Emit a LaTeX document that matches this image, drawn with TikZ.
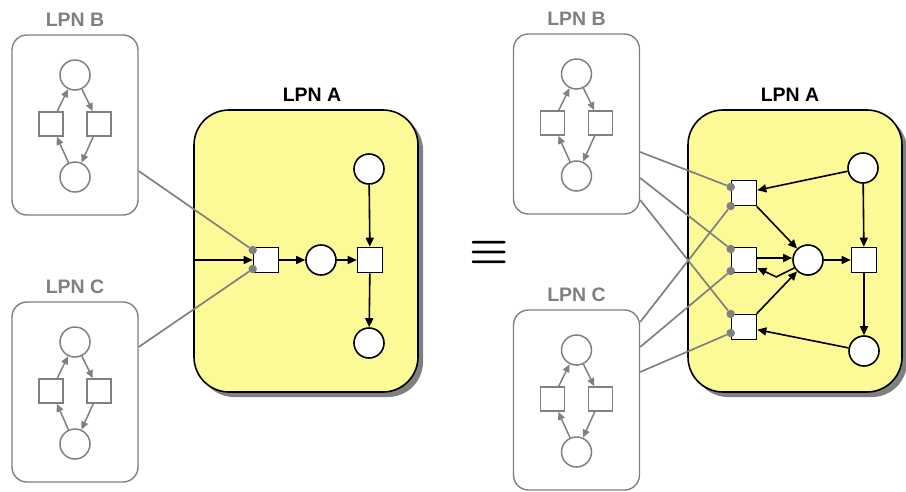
\documentclass[tikz,border=0pt]{standalone}
\usepackage{fontspec}
\setmainfont{Liberation Sans}
\usetikzlibrary{arrows.meta,calc,shadows}
\definecolor{lpnyellow}{RGB}{251,250,150}
\definecolor{lpngray}{RGB}{128,128,128}

% one small grey sub-net: box, label, two places, two transitions, a cycle of arcs
\newcommand\drawsubnet[4]{% #1 name prefix, #2 centre x, #3 top y, #4 label
  \node[subnet] (#1box) at (#2,#3+90) {};
  \node[glabel] (#1lab) at (#2,#3-15) {#4};
  \node[gplace] (#1p1) at (#2,#3+40) {};
  \node[gplace] (#1p2) at (#2,#3+142) {};
  \node[gtrans] (#1t1) at (#2-24,#3+89) {};
  \node[gtrans] (#1t2) at (#2+24,#3+89) {};
  \draw[garc] (#1p1) -- (#1t2);
  \draw[garc] (#1t2) -- (#1p2);
  \draw[garc] (#1p2) -- (#1t1);
  \draw[garc] (#1t1) -- (#1p1);
}

\begin{document}
\begin{tikzpicture}[x=1pt,y=-1pt,
  place/.style={circle,draw,fill=white,minimum size=30pt,inner sep=0pt,line width=1.6pt},
  trans/.style={rectangle,draw,fill=white,minimum size=25pt,inner sep=0pt,line width=1.6pt},
  gplace/.style={circle,draw=lpngray,minimum size=30pt,inner sep=0pt,line width=1.5pt},
  gtrans/.style={rectangle,draw=lpngray,minimum size=24pt,inner sep=0pt,line width=1.5pt},
  garc/.style={draw=lpngray,line width=1.5pt,-{Triangle[length=8pt,width=7pt]}},
  arc/.style={draw=black,line width=1.6pt,-{Triangle[length=9pt,width=8pt]}},
  link/.style={draw=lpngray,line width=1.7pt},
  port/.style={circle,fill=lpngray,minimum size=8.5pt,inner sep=0pt},
  subnet/.style={draw=lpngray,line width=1.4pt,rounded corners=15pt,
    minimum width=126pt,minimum height=180pt,inner sep=0pt},
  mainnet/.style={draw=black,fill=lpnyellow,line width=1.6pt,rounded corners=35pt,
    minimum height=282pt,inner sep=0pt,
    drop shadow={shadow xshift=5pt,shadow yshift=-5pt,fill=black!50,opacity=1}},
  glabel/.style={text=lpngray,font=\fontsize{19.5}{19.5}\selectfont\bfseries},
  blabel/.style={text=black,font=\fontsize{19.5}{19.5}\selectfont\bfseries},
  eqsign/.style={scale=4.4,inner sep=0pt,font=\boldmath},
]
\useasboundingbox (0,0) rectangle (906,491);

% ---------------- left: LPN A with its two environment nets ----------------
\drawsubnet{bl}{75}{35}{LPN B}
\drawsubnet{cl}{75}{302}{LPN C}

\node[mainnet,minimum width=224pt] (al) at (306,251) {};
\node[blabel] (allab) at (312,95) {LPN A};

\node[trans] (t1) at (266,260) {};
\node[place] (p1) at (321,260) {};
\node[trans] (t2) at (370,260) {};
\node[place] (p0) at (369,169) {};
\node[place] (p2) at (369,343) {};
\coordinate (in1) at (al.west |- t1);

\draw[arc] (in1) -- (t1);
\draw[arc] (t1) -- (p1);
\draw[arc] (p1) -- (t2);
\draw[arc] (p0) -- (t2);
\draw[arc] (t2) -- (p2);

\node[port] (d1) at ($(t1.west)+(0,-10)$) {};
\node[port] (d2) at ($(t1.west)+(0,9)$) {};
\draw[link] ($(blbox.east)+(0,46)$) -- (d1);
\draw[link] ($(clbox.east)+(0,-45)$) -- (d2);

% ---------------- equivalence sign ----------------
\node[eqsign] (equiv) at (489,252) {$\equiv$};

% ---------------- right: LPN A with the fused transitions ----------------
\drawsubnet{br}{576.5}{34}{LPN B}
\drawsubnet{cr}{576.5}{310}{LPN C}

\node[mainnet,minimum width=214pt] (ar) at (795,251) {};
\node[blabel] (arlab) at (790,95) {LPN A};

\node[trans] (ta) at (744,193) {};
\node[trans] (tb) at (744,260) {};
\node[trans] (tc) at (744,327) {};
\node[place] (pm) at (808,260) {};
\node[trans] (td) at (864,260) {};
\node[place] (pt) at (863,168) {};
\node[place] (pb) at (864,351) {};

\draw[arc] (pt) -- (ta);
\draw[arc] (ta) -- (pm);
\draw[arc] ($(tb.east)+(0,-2)$) -- ($(pm.west)+(0,-2)$);
\draw[arc] (pm.210) -- ++(-18,9) -- ($(tb.east)+(0,8)$);
\draw[arc] (tc) -- (pm);
\draw[arc] (pb) -- (tc);
\draw[arc] (pt) -- (td);
\draw[arc] (pm) -- (td);
\draw[arc] (td) -- (pb);

\node[port] (da1) at ($(ta.west)+(0,-6)$) {};
\node[port] (da2) at ($(ta.west)+(0,13)$) {};
\node[port] (db1) at ($(tb.west)+(0,-11)$) {};
\node[port] (db2) at ($(tb.west)+(0,11)$) {};
\node[port] (dc1) at ($(tc.west)+(0,-13)$) {};
\node[port] (dc2) at ($(tc.west)+(0,6)$) {};

\draw[link] ($(brbox.east)+(0,28)$) -- (da1);
\draw[link] ($(brbox.east)+(0,54)$) -- (db1);
\draw[link] ($(brbox.east)+(0,76)$) -- (dc1);
\draw[link] ($(crbox.east)+(0,-78)$) -- (da2);
\draw[link] ($(crbox.east)+(0,-53)$) -- (db2);
\draw[link] ($(crbox.east)+(0,-28)$) -- (dc2);
\end{tikzpicture}
\end{document}
